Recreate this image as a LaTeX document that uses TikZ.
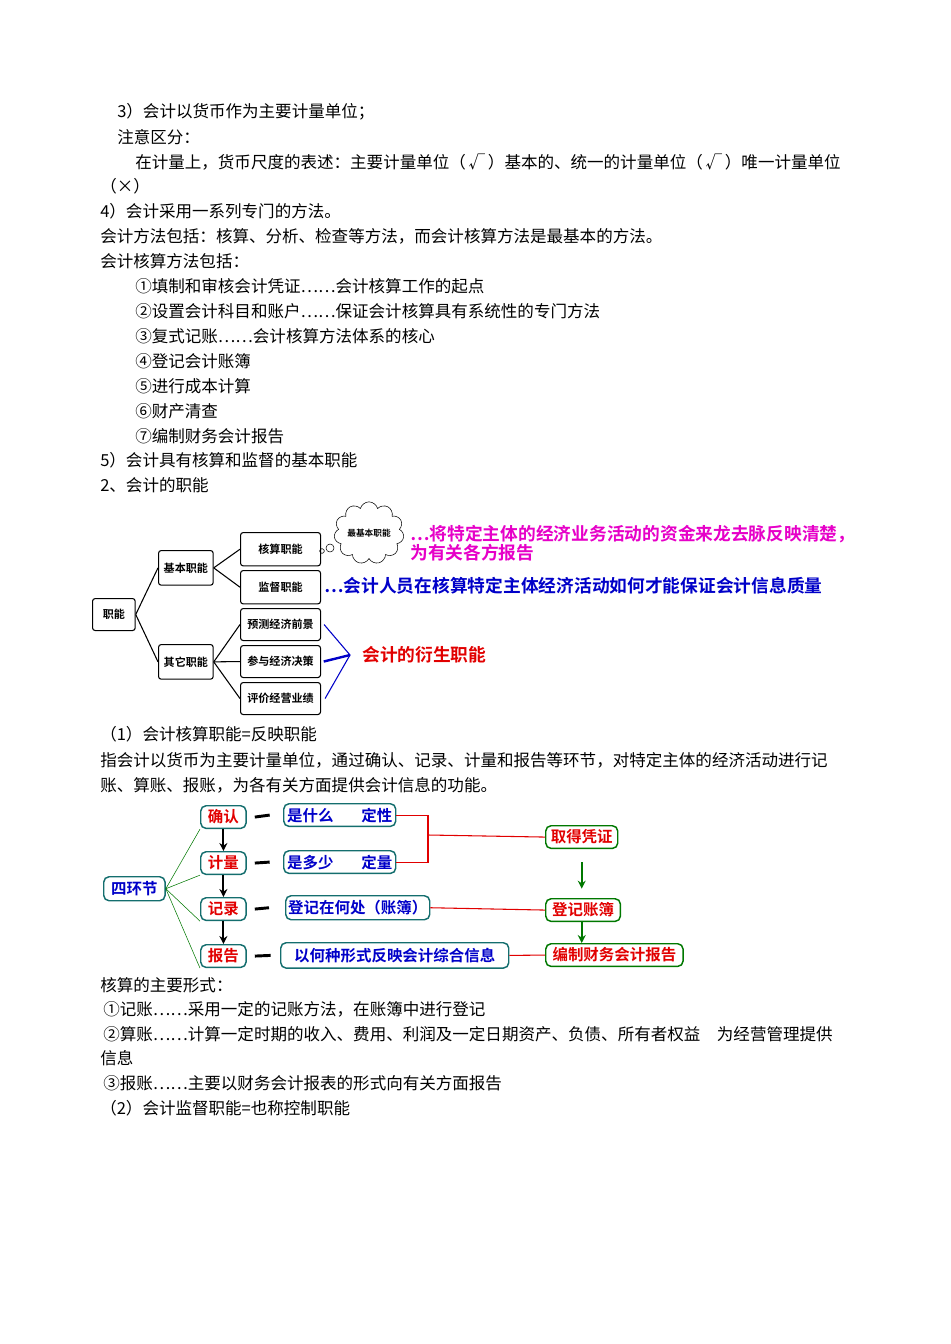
\documentclass[tikz,border=0pt]{standalone}
\usepackage{fontspec}
\setmainfont{Noto Sans CJK SC}
\newfontfamily\cjkb{Noto Sans CJK SC Bold}
\usetikzlibrary{shapes.symbols,arrows.meta}
\definecolor{teal2}{RGB}{20,110,110}
\definecolor{pinkm}{RGB}{230,0,200}
\definecolor{blueb}{RGB}{0,0,200}
\definecolor{redr}{RGB}{225,0,0}
\definecolor{greeng}{RGB}{0,120,0}
\begin{document}
\begin{tikzpicture}[x=0.75pt,y=-0.75pt,
 txt/.style={anchor=west,inner sep=0pt,font=\fontsize{12.4}{13}\selectfont},
 fbox/.style={draw,thick,rounded corners=2pt,font=\cjkb\fontsize{8.3}{10}\selectfont,inner sep=0pt,anchor=north west},
 rbox/.style={draw=teal2,line width=1.1pt,rounded corners=4pt,inner sep=0pt,anchor=north west,font=\cjkb\fontsize{11.6}{13}\selectfont},
 tl/.style={thick},
 rl/.style={redr,thick},
 ga/.style={greeng,line width=1.6pt,-{Stealth[length=6pt,width=6pt]}},
 ba/.style={black,line width=1.6pt,-{Stealth[length=6pt,width=6pt]}}]
\useasboundingbox (0,0) rectangle (950,1344);
\node[txt] (l1) at (117,112) {3）会计以货币作为主要计量单位；};
\node[txt] (l2) at (117,137) {注意区分：};
\node[txt] (l3) at (135,162) {在计量上，货币尺度的表述：主要计量单位（\,√\,）基本的、统一的计量单位（\,√\,）唯一计量单位};
\node[txt] (l4) at (100,186) {（×）};
\node[txt] (l5) at (100,211) {4）会计采用一系列专门的方法。};
\node[txt] (l6) at (100,236) {会计方法包括：核算、分析、检查等方法，而会计核算方法是最基本的方法。};
\node[txt] (l7) at (100,261) {会计核算方法包括：};
\node[txt] (m1) at (135,286) {①填制和审核会计凭证……会计核算工作的起点};
\node[txt] (m2) at (135,311) {②设置会计科目和账户……保证会计核算具有系统性的专门方法};
\node[txt] (m3) at (135,336) {③复式记账……会计核算方法体系的核心};
\node[txt] (m4) at (135,361) {④登记会计账簿};
\node[txt] (m5) at (135,386) {⑤进行成本计算};
\node[txt] (m6) at (135,411) {⑥财产清查};
\node[txt] (m7) at (135,436) {⑦编制财务会计报告};
\node[txt] (l8) at (100,460) {5）会计具有核算和监督的基本职能};
\node[txt] (l9) at (100,485) {2、会计的职能};
% diagram 1
\node[fbox,minimum width=32pt,minimum height=24pt] (zn) at (92,598) {职能};
\node[fbox,minimum width=41pt,minimum height=26pt] (jb) at (158,550) {基本职能};
\node[fbox,minimum width=41pt,minimum height=26pt] (qt) at (158,644) {其它职能};
\node[fbox,minimum width=60pt,minimum height=25pt] (hs) at (240,532) {核算职能};
\node[fbox,minimum width=60pt,minimum height=25pt] (jd) at (240,570) {监督职能};
\node[fbox,minimum width=60pt,minimum height=24pt] (yc) at (240,608) {预测经济前景};
\node[fbox,minimum width=60pt,minimum height=24pt] (cy) at (240,645) {参与经济决策};
\node[fbox,minimum width=60pt,minimum height=24pt] (pj) at (240,682) {评价经营业绩};
\draw[tl] (zn.east) -- (jb.west); \draw[tl] (zn.east) -- (qt.west);
\draw[tl] (jb.east) -- (hs.west); \draw[tl] (jb.east) -- (jd.west);
\draw[tl] (qt.east) -- (yc.west); \draw[tl] (qt.east) -- (cy.west); \draw[tl] (qt.east) -- (pj.west);
\node[cloud,draw,thin,cloud puffs=11,aspect=1.2,minimum width=52pt,minimum height=44pt,inner sep=0pt,font=\cjkb\fontsize{6.5}{8}\selectfont] (cl) at (369,533) {最基本职能};
\node[circle,draw,thin,minimum size=6pt,inner sep=0pt] (c1) at (330,548) {};
\node[circle,draw,thin,minimum size=3.5pt,inner sep=0pt] (c2) at (322,551) {};
\node[anchor=west,inner sep=0pt,text=pinkm,font=\cjkb\fontsize{13.3}{14}\selectfont,align=left] (pk) at (410,543) {…将特定主体的经济业务活动的资金来龙去脉反映清楚，\\为有关各方报告};
\node[anchor=west,inner sep=0pt,text=blueb,font=\cjkb\fontsize{13.3}{14}\selectfont] (bl) at (324,586) {…会计人员在核算特定主体经济活动如何才能保证会计信息质量};
\coordinate (bt) at (350,655);
\draw[blueb,thick] (yc.east) ++(3,0) -- (bt) -- ([xshift=3pt]pj.east);
\draw[blueb,line width=1.8pt] ([xshift=2pt]cy.east) -- (bt);
\node[anchor=west,inner sep=0pt,text=redr,font=\cjkb\fontsize{13.3}{14}\selectfont] (ys) at (362,655) {会计的衍生职能};
\node[txt] (l10) at (100,734) {（1）会计核算职能=反映职能};
\node[txt] (l11) at (100,760) {指会计以货币为主要计量单位，通过确认、记录、计量和报告等环节，对特定主体的经济活动进行记};
\node[txt] (l12) at (100,785) {账、算账、报账，为各有关方面提供会计信息的功能。};
% diagram 2
\node[rbox,text=blueb,minimum width=46pt,minimum height=18pt] (sh) at (103,876) {四环节};
\node[rbox,text=redr,minimum width=34pt,minimum height=17pt] (qr) at (200,805) {确认};
\node[rbox,text=redr,minimum width=34pt,minimum height=17pt] (jl) at (200,851) {计量};
\node[rbox,text=redr,minimum width=34pt,minimum height=17pt] (jlu) at (200,897) {记录};
\node[rbox,text=redr,minimum width=34pt,minimum height=17pt] (bg) at (200,944) {报告};
\foreach \a in {qr,jl,jlu,bg}{\draw[greeng,thin] (sh.east) -- (\a.south west);}
\draw[ba] (qr.south) -- (jl.north); \draw[ba] (jl.south) -- (jlu.north); \draw[ba] (jlu.south) -- (bg.north);
\node[rbox,text=blueb,minimum width=84pt,minimum height=17pt] (s1) at (283,803) {是什么\hspace{1.8em}定性};
\node[rbox,text=blueb,minimum width=84pt,minimum height=17pt] (s2) at (283,850) {是多少\hspace{1.8em}定量};
\node[rbox,text=blueb,minimum width=108pt,minimum height=18pt] (s3) at (285,895) {登记在何处（账簿）};
\node[rbox,text=blueb,minimum width=171pt,minimum height=19pt] (s4) at (280,942) {以何种形式反映会计综合信息};
\draw[line width=2.2pt] ([xshift=6pt]qr.east) -- ([xshift=-10pt]s1.west);
\draw[line width=2.2pt] ([xshift=6pt]jl.east) -- ([xshift=-10pt]s2.west);
\draw[line width=2.2pt] ([xshift=6pt]jlu.east) -- ([xshift=-12pt]s3.west);
\draw[line width=2.2pt] ([xshift=6pt]bg.east) -- ([xshift=-7pt]s4.west);
\node[rbox,text=redr,draw=greeng,minimum width=54pt,minimum height=17pt] (qd) at (545,825) {取得凭证};
\node[rbox,text=redr,draw=greeng,minimum width=56pt,minimum height=17pt] (dj) at (545,898) {登记账簿};
\node[rbox,text=redr,draw=greeng,minimum width=103pt,minimum height=17pt] (bz) at (545,943) {编制财务会计报告};
\coordinate (rj) at (428,835);
\draw[rl] (s1.east) -| (rj) |- (s2.east);
\draw[rl] (rj) -- (qd.west);
\draw[rl] (s3.east) -- (dj.west);
\draw[rl] (s4.east) -- (bz.west);
\draw[ga] ([yshift=-10pt]qd.south) -- ([yshift=7pt]qd.south |- dj.north);
\draw[ga] (qd.south |- dj.south) -- (qd.south |- bz.north);
\node[txt] (n1) at (100,985) {核算的主要形式：};
\node[txt] (n2) at (103,1009) {①记账……采用一定的记账方法，在账簿中进行登记};
\node[txt] (n3) at (103,1034) {②算账……计算一定时期的收入、费用、利润及一定日期资产、负债、所有者权益\hspace{1em}为经营管理提供};
\node[txt] (n4) at (100,1058) {信息};
\node[txt] (n5) at (103,1083) {③报账……主要以财务会计报表的形式向有关方面报告};
\node[txt] (n6) at (100,1108) {（2）会计监督职能=也称控制职能};
\end{tikzpicture}
\end{document}
